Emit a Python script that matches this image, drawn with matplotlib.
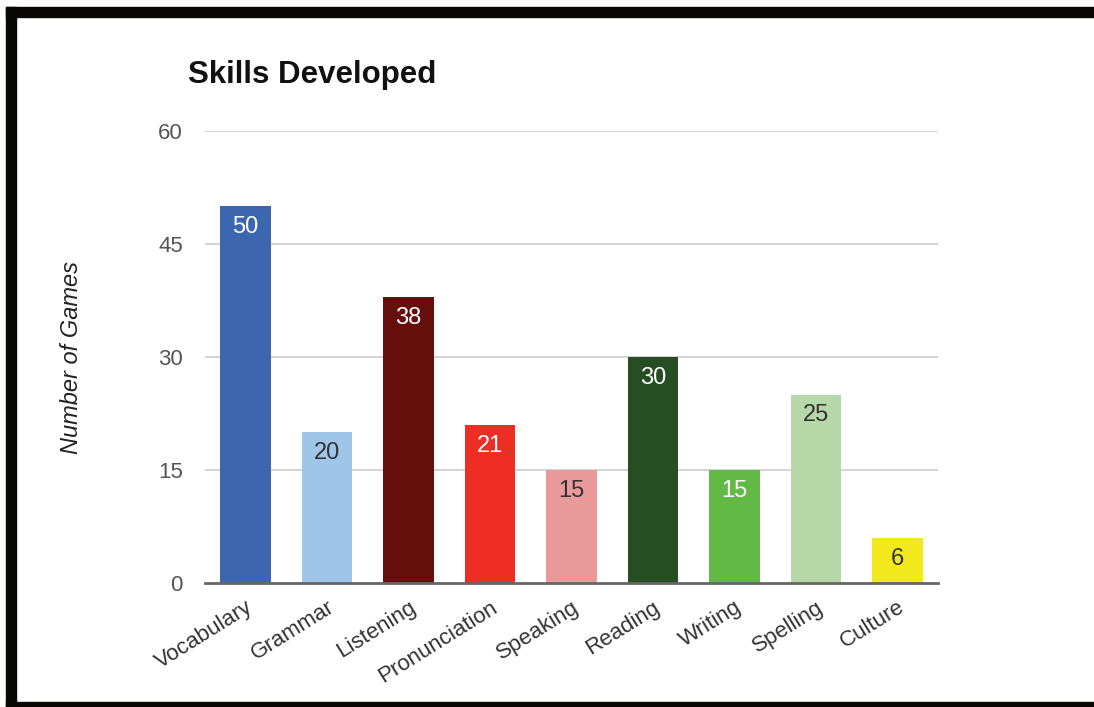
import matplotlib
matplotlib.use("Agg")
import matplotlib.pyplot as plt
from matplotlib.patches import Rectangle

SKILLS = ["Vocabulary", "Grammar", "Listening", "Pronunciation", "Speaking",
          "Reading", "Writing", "Spelling", "Culture"]
GAMES = [50, 20, 38, 21, 15, 30, 15, 25, 6]
COLORS = ["#3d66b0", "#9fc5e8", "#660e0b", "#ee2e24", "#ea9999",
          "#274e23", "#63b946", "#b6d7a8", "#f1e91c"]
LABEL_COLORS = ["white", "#333333", "white", "white", "#333333",
                "white", "white", "#333333", "#333333"]
YTICKS = [0, 15, 30, 45, 60]

plt.rcParams.update({"font.family": "Liberation Sans"})
fig = plt.figure(figsize=(10.94, 7.07), dpi=100)
ax = fig.add_axes([205 / 1094, 1 - 583 / 707, (938 - 205) / 1094, (583 - 131) / 707])

x = range(len(SKILLS))
bars = ax.bar(x, GAMES, width=0.62, color=COLORS, zorder=3)
for b, v, c in zip(bars, GAMES, LABEL_COLORS):
    ax.text(b.get_x() + b.get_width() / 2, v - 1.3, str(v), ha="center",
            va="top", fontsize=17, color=c, zorder=4)

ax.set_xlim(-0.5, len(SKILLS) - 0.5)
ax.set_ylim(0, 60)
ax.set_yticks(YTICKS)
ax.set_yticklabels([str(t) for t in YTICKS], fontsize=16, color="#555555")
ax.set_xticks(list(x))
ax.set_xticklabels(SKILLS, rotation=32, ha="right", rotation_mode="anchor",
                   fontsize=16, color="#333333")
ax.tick_params(axis="both", length=0)
ax.tick_params(axis="y", pad=16)
ax.tick_params(axis="x", pad=10)
for t in YTICKS[1:]:
    ax.axhline(t, color="#cccccc", lw=1.2, zorder=1)
ax.axhline(0, color="#666666", lw=2, zorder=5, clip_on=False)
for s in ax.spines.values():
    s.set_visible(False)

ax.set_ylabel("Number of Games", fontsize=17, style="italic", color="#222222",
              labelpad=54)
fig.text(188 / 1094, 1 - 75 / 707, "Skills Developed", fontsize=22.5,
         fontweight="bold", va="center", ha="left", color="#111111")

# black frame (left, top, bottom)
fig.patches.append(Rectangle((6 / 1094, 0), 10 / 1094, 1 - 7 / 707,
                             transform=fig.transFigure, color="#0a0805"))
fig.patches.append(Rectangle((6 / 1094, 1 - 17 / 707), 1, 10 / 707,
                             transform=fig.transFigure, color="#0a0805"))
fig.patches.append(Rectangle((6 / 1094, 0), 1, 5 / 707,
                             transform=fig.transFigure, color="#0a0805"))

fig.savefig("out.png")
